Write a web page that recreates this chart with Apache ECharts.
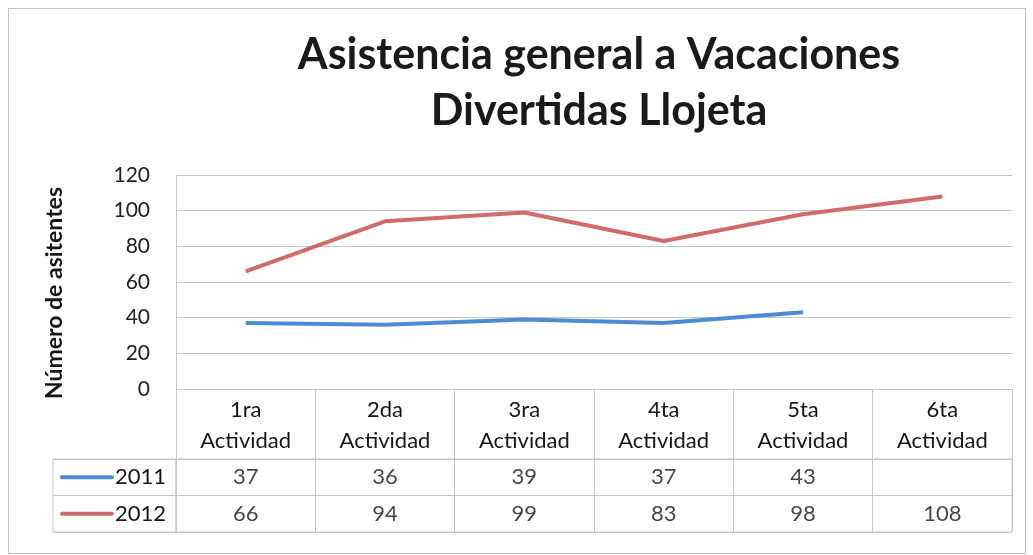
<!DOCTYPE html>
<html>
<head>
<meta charset="utf-8">
<script src="https://cdn.jsdelivr.net/npm/echarts@6/dist/echarts.min.js"></script>
<style>
  html, body { margin: 0; padding: 0; background: #fff; }
  #wrap { position: relative; width: 1033px; height: 555px; }
  #frame { position: absolute; left: 8px; top: 8px; width: 1016px; height: 544px; border: 1px solid #c4c4c4; }
  #main { position: absolute; left: 0; top: 0; width: 1033px; height: 555px; }
</style>
</head>
<body>
<div id="wrap">
  <div id="frame"></div>
  <div id="main"></div>
</div>
<script>
  var chart = echarts.init(document.getElementById('main'))

  // actividades (cabecera de la tabla)
  var actividades = ['1ra\nActividad', '2da\nActividad', '3ra\nActividad', '4ta\nActividad', '5ta\nActividad', '6ta\nActividad']
  var anios = ['2011', '2012']
  var datos2011 = [37, 36, 39, 37, 43, null]
  var datos2012 = [66, 94, 99, 83, 98, 108]
  var colores = ['#4d8ad4', '#d06b6b']

  var gris = '#c6c6c6'
  var fuente = 'Lato'
  var tinta = '#161616'

  // celdas de la tabla de datos
  function celdas(valores, anio) {
    var res = []
    valores.forEach(function (v, i) {
      if (v !== null) res.push([i, anio, v])
    })
    return res
  }

  var option = {
    textStyle: { fontFamily: fuente },
    title: {
      text: 'Asistencia general a Vacaciones\nDivertidas Llojeta',
      left: 594,
      textAlign: 'center',
      top: 22,
      textStyle: { fontFamily: fuente, fontSize: 43, fontWeight: 'bold', color: '#1a1a1a', lineHeight: 56 }
    },
    grid: [
      { left: 176, right: 21, top: 175, height: 214 },
      { left: 176, right: 21, top: 459, height: 73, show: true, borderColor: gris, borderWidth: 1 },
      { left: 53, width: 123, top: 459, height: 73, show: true, borderColor: gris, borderWidth: 1 }
    ],
    xAxis: [
      {
        type: 'category', gridIndex: 0, data: actividades, boundaryGap: true,
        axisLine: { lineStyle: { color: gris } },
        axisTick: { show: true, length: 70, interval: 0, lineStyle: { color: gris } },
        axisLabel: { interval: 0, margin: 5, fontSize: 22, lineHeight: 31, color: tinta, fontFamily: fuente },
        splitLine: { show: false }
      },
      {
        type: 'category', gridIndex: 1, data: actividades, boundaryGap: true,
        axisLine: { show: false }, axisTick: { show: false }, axisLabel: { show: false },
        splitLine: { show: true, interval: 0, lineStyle: { color: gris } }
      }
    ],
    yAxis: [
      {
        type: 'value', gridIndex: 0, min: 0, max: 120, interval: 20,
        name: 'Número de asitentes', nameLocation: 'middle', nameGap: 110, nameRotate: 90,
        nameTextStyle: { fontFamily: fuente, fontSize: 23, fontWeight: 'bold', color: tinta, padding: [0, 0, 0, -22] },
        axisLine: { show: true, lineStyle: { color: gris } },
        axisTick: { show: false },
        axisLabel: { margin: 26, fontSize: 21, color: '#222', fontFamily: fuente },
        splitLine: { lineStyle: { color: gris } }
      },
      {
        type: 'category', gridIndex: 1, data: anios, inverse: true,
        axisLine: { show: false },
        axisTick: { show: true, length: 123, interval: 0, lineStyle: { color: gris } },
        splitLine: { show: true, interval: 0, lineStyle: { color: gris } },
        axisLabel: {
          margin: 10, fontSize: 22, color: tinta, fontFamily: fuente,
          formatter: function (v, i) { return '{l' + i + '|}{y|' + v + '}' },
          rich: {
            l0: { width: 54, height: 4, backgroundColor: colores[0], borderRadius: 2 },
            l1: { width: 54, height: 4, backgroundColor: colores[1], borderRadius: 2 },
            y: { fontSize: 22, color: tinta, fontFamily: fuente, padding: [0, 0, 0, 1] }
          }
        }
      }
    ],
    series: [
      {
        name: anios[0], type: 'line', xAxisIndex: 0, yAxisIndex: 0, data: datos2011,
        showSymbol: false, symbol: 'none', connectNulls: false,
        lineStyle: { color: colores[0], width: 4 }, itemStyle: { color: colores[0] }
      },
      {
        name: anios[1], type: 'line', xAxisIndex: 0, yAxisIndex: 0, data: datos2012,
        showSymbol: false, symbol: 'none',
        lineStyle: { color: colores[1], width: 4 }, itemStyle: { color: colores[1] }
      },
      {
        type: 'scatter', xAxisIndex: 1, yAxisIndex: 1, symbolSize: 0,
        data: celdas(datos2011, anios[0]).concat(celdas(datos2012, anios[1])),
        label: {
          show: true, position: 'inside', fontSize: 22, color: tinta, fontFamily: fuente,
          formatter: function (p) { return p.value[2] }
        },
        silent: true
      }
    ],
    animation: false
  }
  chart.setOption(option)
</script>
</body>
</html>
